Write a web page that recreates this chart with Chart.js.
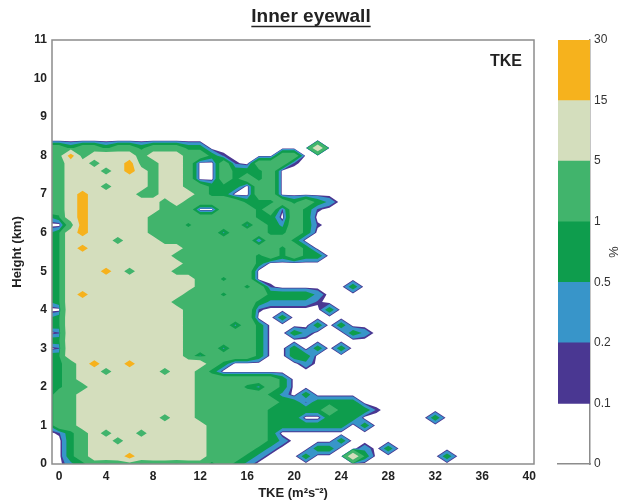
<!DOCTYPE html>
<html lang="en">
<head>
<meta charset="utf-8" />
<title>Inner eyewall - TKE CFAD</title>
<style type="text/css">
	html, body { margin: 0; padding: 0; background: #fff; }
	#wrap { position: relative; width: 622px; height: 504px; }
	#cfad { position: absolute; left: 0; top: 0; }
	#cbar { position: absolute; left: 540px; top: 0; }
</style>
<script type="text/javascript" src="https://cdn.jsdelivr.net/npm/chart.js@4.4.1/dist/chart.umd.min.js"></script>
</head>
<body>
<div id="wrap">
	<canvas id="cfad" width="622" height="504"></canvas>
	<canvas id="cbar" width="82" height="504"></canvas>
</div>
<script type="text/javascript">
// grid columns (TKE, m2 s-2) and rows (height, km), top row first
var tkeBins = [-1, 0, 1, 2, 3, 4, 5, 6, 7, 8, 9, 10, 11, 12, 13, 14, 15, 16, 17,
	18, 19, 20, 21, 22, 23, 24, 25, 26, 27, 28, 29, 30, 31, 32, 33, 34];
var heightBins = [8.4, 8.2, 8.0, 7.8, 7.6, 7.4, 7.2, 7.0, 6.8, 6.6, 6.4, 6.2, 6.0, 5.8,
	5.6, 5.4, 5.2, 5.0, 4.8, 4.6, 4.4, 4.2, 4.0, 3.8, 3.6, 3.4, 3.2, 3.0, 2.8, 2.6,
	2.4, 2.2, 2.0, 1.8, 1.6, 1.4, 1.2, 1.0, 0.8, 0.6, 0.4, 0.2, 0.0];

// frequency class, one char per TKE bin
// 0: <0.1  1: 0.1-0.2  2: 0.2-0.5  3: 0.5-1  4: 1-5  5: 5-15  6: 15-30 (%)
var freqRows = [
	"000000000000000000000000000000000000",
	"443443443444330000000005000000000000",
	"446455554555443100004400000000000000",
	"445545564455400410444100000000000000",
	"445554565455400433340000000000000000",
	"445555555455400434340000000000000000",
	"445554555455443330440000000000000000",
	"445655554455543300440000000000000000",
	"445655555545444443334343200000000000",
	"445655555544400444341431000000000000",
	"235655555444444444330430000000000000",
	"004655555444344442432431000000000000",
	"235655555444444244433430000000000000",
	"235555455544444444144300000000000000",
	"235655555555444444443430000000000000",
	"235555555554444444343433000000000000",
	"235555555555444444300000000000000000",
	"335556545554444444000000000000000000",
	"335555555555544344000000000000000000",
	"335555555555544443410000003000000000",
	"335655555555444344433332000000000000",
	"235555555554444444322221000000000000",
	"005555555555444444100000300000000000",
	"235555555555444444003000000000000000",
	"335555555555444424300003030000000000",
	"015555555555444444300320003200000000",
	"335555555555444444300000000000000000",
	"015555555555444244300303030000000000",
	"335555555555424444300330000000000000",
	"334565565555554300000020000000000000",
	"334554555545543000000000000000000000",
	"334555555555544444443000000000000000",
	"334455555555544443243000000000000000",
	"244555555555544444432030000000000000",
	"244555555555544444443313333000000000",
	"244555555555544444433333433310000000",
	"244555555545544444433300333000000300",
	"244555555555554444433333330300000000",
	"013454554555554444430000000000000000",
	"003455455555554444432000030000000000",
	"003455555555554444320003300203000000",
	"003455565555554443200030005300000030",
	"002343443443443432000000000000000000"
];

// a typical % value for each class, used for the contour interpolation
var classValue = [0, 0.16, 0.4, 0.8, 1.6, 9, 20];
var levelEdges = [0.1, 0.2, 0.5, 1, 5, 15, 30];
var levelColors = ["#4a3792", "#3895c9", "#0e9d4d", "#41b46c", "#d4debd", "#f6b21d"];
var cbLabels = ["0", "0.1", "0.2", "0.5", "1", "5", "15", "30"];

var tkeTicks = [0, 4, 8, 12, 16, 20, 24, 28, 32, 36, 40];
var heightTicks = [0, 1, 2, 3, 4, 5, 6, 7, 8, 9, 10, 11];

var frameColor = "#8c8c8c";
Chart.defaults.font.family = "'Liberation Sans', Arial, Helvetica, sans-serif";
Chart.defaults.color = "#222";

function cellValue(r, c){
	var ch = freqRows[r].charAt(c);
	return classValue[ch ? parseInt(ch, 10) : 0];
}

function cross(a, b, t){
	var s = (t - a.v) / (b.v - a.v);
	return {px: a.px + s * (b.px - a.px), py: a.py + s * (b.py - a.py)};
}

function addPoly(ctx, pts){
	if(pts.length < 3){ return; }
	ctx.moveTo(pts[0].px, pts[0].py);
	for(var j = 1; j < pts.length; j++){ ctx.lineTo(pts[j].px, pts[j].py); }
	ctx.closePath();
}

// marching squares, filled: part of one grid square where value >= t
function addSquare(ctx, p, t){
	var inside = p.map(function(q){ return q.v >= t; });
	var n = inside.filter(Boolean).length;
	if(n === 0){ return; }
	var i;
	if(n === 2 && inside[0] === inside[2] && (p[0].v + p[1].v + p[2].v + p[3].v) / 4 < t){
		for(i = 0; i < 4; i++){
			if(!inside[i]){ continue; }
			var a = p[(i + 3) % 4], b = p[i], c = p[(i + 1) % 4];
			addPoly(ctx, [cross(a, b, t), b, cross(b, c, t)]);
		}
		return;
	}
	var out = [];
	for(i = 0; i < 4; i++){
		if(inside[i]){ out.push(p[i]); }
		if(inside[i] !== inside[(i + 1) % 4]){ out.push(cross(p[i], p[(i + 1) % 4], t)); }
	}
	addPoly(ctx, out);
}

var contourFill = {
	id: "contourFill",
	beforeDatasetsDraw: function(chart){
		var ctx = chart.ctx, a = chart.chartArea, x = chart.scales.x, y = chart.scales.y;
		ctx.save();
		ctx.beginPath();
		ctx.rect(a.left, a.top, a.right - a.left, a.bottom - a.top);
		ctx.clip();
		for(var k = 0; k < levelColors.length; k++){
			var t = levelEdges[k];
			ctx.beginPath();
			for(var r = 0; r < heightBins.length - 1; r++){
				for(var c = 0; c < tkeBins.length - 1; c++){
					var corners = [[c, r], [c + 1, r], [c + 1, r + 1], [c, r + 1]].map(function(cr){
						return {
							px: x.getPixelForValue(tkeBins[cr[0]]),
							py: y.getPixelForValue(heightBins[cr[1]]),
							v: cellValue(cr[1], cr[0])
						};
					});
					addSquare(ctx, corners, t);
				}
			}
			ctx.fillStyle = levelColors[k];
			ctx.fill();
		}
		ctx.restore();
	},
	afterDatasetsDraw: function(chart){
		var ctx = chart.ctx, a = chart.chartArea;
		ctx.save();
		ctx.strokeStyle = frameColor;
		ctx.lineWidth = 1.5;
		ctx.strokeRect(a.left, a.top, a.right - a.left, a.bottom - a.top);
		ctx.fillStyle = "#222";
		ctx.font = "bold 16px 'Liberation Sans', Arial, sans-serif";
		ctx.textAlign = "right";
		ctx.textBaseline = "middle";
		ctx.fillText("TKE", a.right - 12, a.top + 22);
		ctx.restore();
	},
	afterDraw: function(chart){
		// underline of the title
		var tb = chart.titleBlock, ctx = chart.ctx;
		if(!tb){ return; }
		ctx.save();
		ctx.font = "bold 19px 'Liberation Sans', Arial, sans-serif";
		var w = ctx.measureText(tb.options.text).width;
		var cx = (tb.left + tb.right) / 2;
		ctx.strokeStyle = "#222";
		ctx.lineWidth = 1.5;
		ctx.beginPath();
		ctx.moveTo(cx - w / 2, 26.5);
		ctx.lineTo(cx + w / 2, 26.5);
		ctx.stroke();
		ctx.restore();
	}
};

new Chart(document.getElementById("cfad"), {
	type: "scatter",
	data: {datasets: []},
	options: {
		responsive: false, animation: false, devicePixelRatio: 1,
		layout: {padding: 0},
		plugins: {
			legend: {display: false},
			tooltip: {enabled: false},
			title: {display: true, text: "Inner eyewall", color: "#222",
				font: {size: 19, weight: "bold"}, padding: {top: 5, bottom: 12.2}}
		},
		scales: {
			x: {
				type: "linear", min: -0.6, max: 40.4,
				afterBuildTicks: function(s){ s.ticks = tkeTicks.map(function(v){ return {value: v}; }); },
				afterFit: function(s){ s.height = 40; },
				grid: {display: false, drawTicks: false},
				border: {display: false},
				ticks: {font: {size: 12, weight: "bold"}, padding: 5, maxRotation: 0, autoSkip: false},
				title: {display: true, text: "TKE (m\u00b2s\u207b\u00b2)", font: {size: 13, weight: "bold"}, padding: {top: 0, bottom: 3}}
			},
			y: {
				type: "linear", min: 0, max: 11,
				afterBuildTicks: function(s){ s.ticks = heightTicks.map(function(v){ return {value: v}; }); },
				afterFit: function(s){ s.width = 52; },
				grid: {display: false, drawTicks: false},
				border: {display: false},
				ticks: {font: {size: 12, weight: "bold"}, padding: 5, autoSkip: false},
				title: {display: true, text: "Height (km)", font: {size: 13, weight: "bold"}, padding: {top: 10, bottom: 0}}
			},
			// empty strip on the right, room for the colour bar
			yRoom: {
				type: "linear", position: "right", min: 0, max: 1,
				afterFit: function(s){ s.width = 88; },
				grid: {display: false, drawTicks: false},
				border: {display: false},
				ticks: {display: false}
			}
		}
	},
	plugins: [contourFill]
});

// colour bar
new Chart(document.getElementById("cbar"), {
	type: "bar",
	data: {
		labels: [""],
		datasets: levelColors.map(function(col, i){
			return {data: [[i + 1, i + 2]], backgroundColor: col, borderWidth: 0,
				grouped: false, barPercentage: 1, categoryPercentage: 1};
		})
	},
	options: {
		responsive: false, animation: false, devicePixelRatio: 1,
		layout: {padding: {left: 18, right: 0, top: 40, bottom: 0}},
		plugins: {legend: {display: false}, tooltip: {enabled: false}},
		scales: {
			x: {
				afterFit: function(s){ s.height = 40; },
				grid: {display: false, drawTicks: false},
				ticks: {display: false},
				border: {display: true, color: frameColor, width: 1.5}
			},
			y: {
				position: "right", min: 0, max: 7,
				afterBuildTicks: function(s){ s.ticks = cbLabels.map(function(l, i){ return {value: i}; }); },
				afterFit: function(s){ s.width = 32; },
				grid: {display: false, drawTicks: false},
				border: {display: true, color: frameColor, width: 1.5},
				ticks: {font: {size: 12}, color: "#333", padding: 4, autoSkip: false,
					callback: function(v, i){ return cbLabels[i]; }},
				title: {display: true, text: "%", font: {size: 13}, color: "#333", padding: 2}
			}
		}
	}
});
</script>
</body>
</html>
